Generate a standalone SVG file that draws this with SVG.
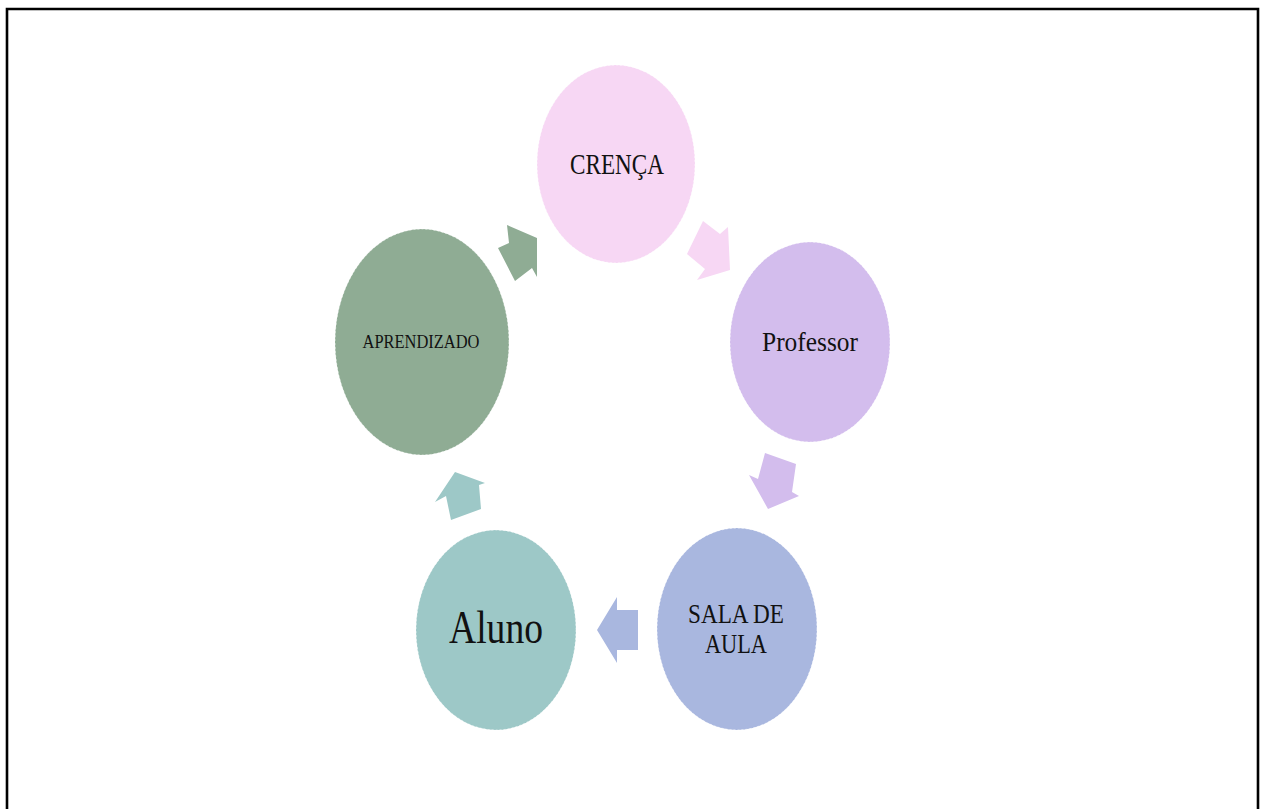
<svg xmlns="http://www.w3.org/2000/svg" width="1265" height="809" viewBox="0 0 1265 809">
  <style>
    .node { stroke: #ffffff; stroke-opacity: 0.55; stroke-width: 1; stroke-dasharray: 2 2; }
    .lbl { font-family: "Liberation Serif", "Times New Roman", serif; fill: #111111; text-anchor: middle; }
    .pink { fill: #F7D7F4; }
    .purple { fill: #D3BDED; }
    .blue { fill: #A9B7DF; }
    .teal { fill: #9DC8C7; }
    .green { fill: #8FAC94; }
  </style>
  <rect width="1265" height="809" fill="#ffffff"/>
  <path d="M7,809 V9 H1258 V809" fill="none" stroke="#000000" stroke-width="2.6"/>

  <g id="connectors">
    <polygon class="pink" points="703,221 720,234 728,227 730,270 697,280 705,269 687,254"/>
    <polygon class="purple" points="765,453 796,464 792,492 799,496 768,509 749,475 758,479"/>
    <polygon class="blue" points="597,630 617,597 617,610 638,610 638,650 617,650 617,663"/>
    <polygon class="teal" points="455,472 485,483 479,485 481,509 451,520 446,496 435,502"/>
    <polygon class="green" points="507,225 537,238 537,277 532,268 515,281 498,248 509,243"/>
  </g>

  <g id="node-crenca">
    <ellipse class="node pink" cx="616" cy="164" rx="79" ry="99"/>
    <text class="lbl" x="617" y="174" font-size="29" textLength="94" lengthAdjust="spacingAndGlyphs">CRENÇA</text>
  </g>
  <g id="node-professor">
    <ellipse class="node purple" cx="810" cy="342" rx="80" ry="100"/>
    <text class="lbl" x="810" y="351" font-size="27" textLength="96" lengthAdjust="spacingAndGlyphs">Professor</text>
  </g>
  <g id="node-sala">
    <ellipse class="node blue" cx="737" cy="629" rx="80" ry="101"/>
    <text class="lbl" x="736" y="623" font-size="27" textLength="96" lengthAdjust="spacingAndGlyphs">SALA DE</text>
    <text class="lbl" x="736" y="653" font-size="27" textLength="62" lengthAdjust="spacingAndGlyphs">AULA</text>
  </g>
  <g id="node-aluno">
    <ellipse class="node teal" cx="496" cy="630" rx="80" ry="100"/>
    <text class="lbl" x="496" y="643" font-size="47" textLength="94" lengthAdjust="spacingAndGlyphs">Aluno</text>
  </g>
  <g id="node-aprendizado">
    <ellipse class="node green" cx="422" cy="342" rx="87" ry="113"/>
    <text class="lbl" x="421" y="348" font-size="19.5" textLength="117" lengthAdjust="spacingAndGlyphs">APRENDIZADO</text>
  </g>
</svg>
